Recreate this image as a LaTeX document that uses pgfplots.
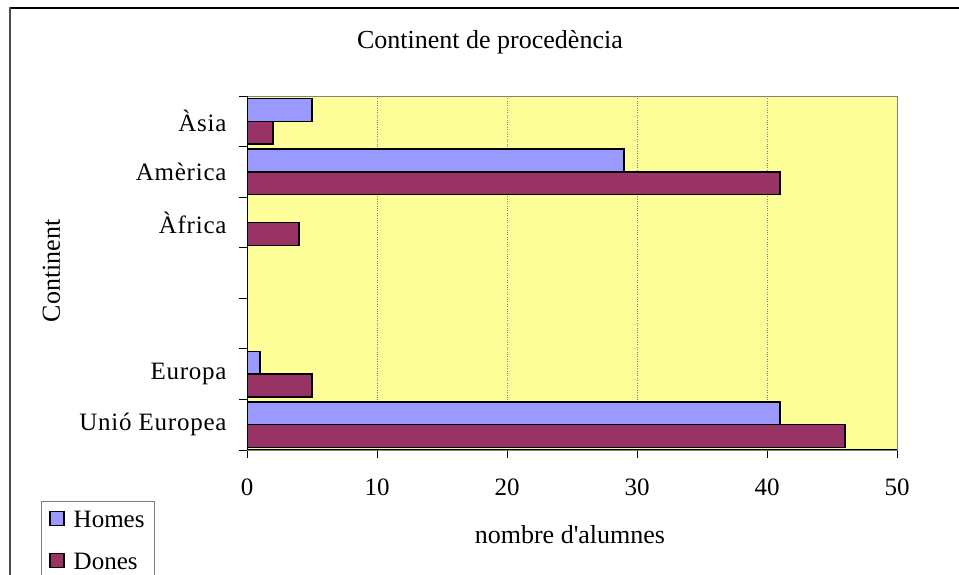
\documentclass[border=0pt]{standalone}
\usepackage{pgfplots}
\pgfplotsset{compat=1.18}
\usepackage{fontspec}
\setmainfont{Liberation Serif}
\definecolor{plotyellow}{HTML}{FFFF99}
\definecolor{homes}{HTML}{9999FF}
\definecolor{dones}{HTML}{993366}

\begin{document}
\begin{tikzpicture}
\useasboundingbox (0,0) rectangle (959bp,575bp);
\clip (0,0) rectangle (959bp,575bp);
\fill[white] (0,0) rectangle (959bp,575bp);
\draw[black, line width=2bp] (9bp,567bp) -- (959bp,567bp);
\draw[black!70, line width=2bp] (10bp,568bp) -- (10bp,0bp);
\begin{axis}[
  at={(247bp,125bp)}, anchor=south west,
  width=650bp, height=354bp, scale only axis,
  xmin=0, xmax=50, ymin=-0.5, ymax=6.5,
  xbar, bar width=0.45,
  axis background/.style={fill=plotyellow},
  axis line style={draw=gray, line width=1bp},
  xtick={0,10,...,50},
  ytick={0,...,6},
  yticklabels={Unió Europea,Europa,{},{},Àfrica,Amèrica,Àsia},
  minor ytick={-0.5,0.5,...,6.5},
  tick pos=left, tick align=outside,
  major tick length=8bp, minor tick length=8bp,
  major y tick style={draw=none},
  minor y tick style={black, line width=1bp},
  major x tick style={black, line width=1bp},
  xmajorgrids, x grid style={gray, dotted, line width=1bp},
  /pgf/number format/assume math mode=true,
  tick label style={font=\fontsize{25bp}{30bp}\selectfont, text=black},
  xticklabel style={yshift=-17bp},
  yticklabel style={xshift=-9bp, font=\fontsize{25bp}{30bp}\selectfont\addfontfeatures{LetterSpace=3}},
  title={Continent de procedència},
  title style={at={(axis description cs:0.3738,1.118)}, anchor=base, font=\fontsize{26bp}{30bp}\selectfont},
  xlabel={nombre d\textquotesingle alumnes},
  xlabel style={at={(axis description cs:0.4969,-0.2655)}, anchor=base, font=\fontsize{26bp}{30bp}\selectfont},
  ylabel={Continent},
  ylabel style={at={(axis description cs:-0.2877,0.5056)}, anchor=base, rotate=0, font=\fontsize{26bp}{30bp}\selectfont},
  legend style={at={(axis description cs:-0.317,-0.144)}, anchor=north west, draw=gray, line width=1bp,
    font=\fontsize{25bp}{30bp}\selectfont, row sep=20bp, inner xsep=8bp, inner ysep=8bp},
  legend cell align=left,
]
\addplot[fill=homes, draw=black, line width=1.3bp, bar shift=0.225,
  legend image code/.code={\draw[fill=homes, draw=black, line width=1.3bp] (0bp,-5bp) rectangle (14bp,9bp); \path (21bp,0bp);}]
  coordinates {(41,0) (1,1) (29,5) (5,6)};
\addlegendentry{Homes}
\addplot[fill=dones, draw=black, line width=1.3bp, bar shift=-0.225,
  legend image code/.code={\draw[fill=dones, draw=black, line width=1.3bp] (0bp,-5bp) rectangle (14bp,9bp); \path (21bp,0bp);}]
  coordinates {(46,0) (5,1) (4,4) (41,5) (2,6)};
\addlegendentry{Dones}
\draw[black, line width=1.5bp] (rel axis cs:0,1) -- (rel axis cs:0,0) -- (rel axis cs:1,0);
\end{axis}
\end{tikzpicture}
\end{document}
